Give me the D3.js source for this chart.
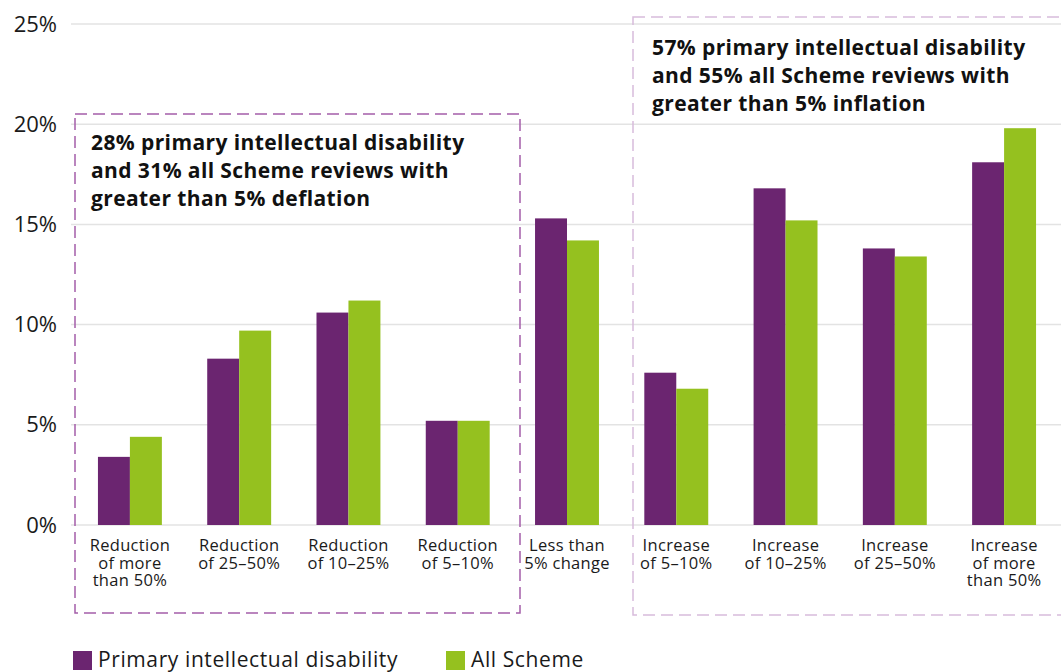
<!DOCTYPE html>
<html>
<head>
<meta charset="utf-8">
<script src="https://cdn.jsdelivr.net/npm/d3@7"></script>
<style>
  body { margin: 0; background: #fff; }
  svg { display: block; font-family: "Open Sans", "Noto Sans", sans-serif; }
</style>
</head>
<body>
<div id="chart"></div>
<script>
// categories (multi-line labels)
var categories = [
  ["Reduction", "of more", "than 50%"],
  ["Reduction", "of 25\u201350%"],
  ["Reduction", "of 10\u201325%"],
  ["Reduction", "of 5\u201310%"],
  ["Less than", "5% change"],
  ["Increase", "of 5\u201310%"],
  ["Increase", "of 10\u201325%"],
  ["Increase", "of 25\u201350%"],
  ["Increase", "of more", "than 50%"]
];
var seriesNames = ["Primary intellectual disability", "All Scheme"];
var primaryID = [3.4, 8.3, 10.6, 5.2, 15.3, 7.6, 16.8, 13.8, 18.1];
var allScheme = [4.4, 9.7, 11.2, 5.2, 14.2, 6.8, 15.2, 13.4, 19.8];
var yTicks = [0, 5, 10, 15, 20, 25];
var noteLeft = ["28% primary intellectual disability", "and 31% all Scheme reviews with", "greater than 5% deflation"];
var noteRight = ["57% primary intellectual disability", "and 55% all Scheme reviews with", "greater than 5% inflation"];

var colors = ["#6b2570", "#95c11f"];
var width = 1061, height = 672;

var svg = d3.select("#chart").append("svg")
  .attr("width", width)
  .attr("height", height);

var x = d3.scaleBand()
  .domain(d3.range(categories.length))
  .range([75, 1059])
  .paddingInner(0.415)
  .paddingOuter(0.21);

var xs = d3.scaleBand()
  .domain(d3.range(seriesNames.length))
  .range([0, x.bandwidth()]);

var y = d3.scaleLinear().domain([0, 25]).range([525, 24]);

// gridlines
svg.append("g").selectAll("line")
  .data(yTicks)
  .enter().append("line")
    .attr("x1", 71)
    .attr("x2", width)
    .attr("y1", function(d) { return y(d); })
    .attr("y2", function(d) { return y(d); })
    .attr("stroke", "#e3e3e3")
    .attr("stroke-width", 1.5);

// y axis labels
var yAxis = svg.append("g")
  .attr("transform", "translate(57,0)")
  .call(d3.axisLeft(y).tickValues(yTicks).tickSize(0).tickPadding(0)
    .tickFormat(function(d) { return d + "%"; }));
yAxis.select(".domain").remove();
yAxis.selectAll("text")
  .attr("font-family", "'Open Sans', sans-serif")
  .attr("font-size", "22px")
  .attr("fill", "#1a1a1a");

// dashed boxes
svg.append("rect")
  .attr("x", 75).attr("y", 114).attr("width", 445).attr("height", 499)
  .attr("fill", "none")
  .attr("stroke", "#a45ea9")
  .attr("stroke-width", 1.5)
  .attr("stroke-dasharray", "12,6");

svg.append("rect")
  .attr("x", 633).attr("y", 17).attr("width", 450).attr("height", 598)
  .attr("fill", "none")
  .attr("stroke", "#d8bcdb")
  .attr("stroke-width", 1.5)
  .attr("stroke-dasharray", "12,6");

// bars
var series = [primaryID, allScheme];
var groups = svg.append("g").selectAll("g")
  .data(categories)
  .enter().append("g")
    .attr("transform", function(d, i) { return "translate(" + x(i) + ",0)"; });

groups.selectAll("rect")
  .data(function(d, i) { return series.map(function(s, j) { return { s: j, v: s[i] }; }); })
  .enter().append("rect")
    .attr("x", function(d) { return xs(d.s); })
    .attr("width", xs.bandwidth())
    .attr("y", function(d) { return y(d.v); })
    .attr("height", function(d) { return y(0) - y(d.v); })
    .attr("fill", function(d) { return colors[d.s]; });

// x labels, one text per line
groups.selectAll("text")
  .data(function(d) { return d; })
  .enter().append("text")
    .attr("text-anchor", "middle")
    .attr("font-size", "16.5px")
    .attr("letter-spacing", "0.3px")
    .attr("fill", "#1a1a1a")
    .attr("x", x.bandwidth() / 2)
    .attr("y", function(d, i) { return 551 + i * 17.5; })
    .text(function(d) { return d; });

// annotations
function note(lines, tx, ty) {
  svg.append("g").selectAll("text")
    .data(lines)
    .enter().append("text")
      .attr("font-size", "21px")
      .attr("font-weight", "bold")
      .attr("letter-spacing", "0.4px")
      .attr("fill", "#111")
      .attr("x", tx)
      .attr("y", function(d, i) { return ty + i * 28; })
      .text(function(d) { return d; });
}
note(noteLeft, 91, 150);
note(noteRight, 652, 55);

// legend
var legend = svg.append("g").selectAll("g")
  .data(seriesNames)
  .enter().append("g")
    .attr("transform", function(d, i) { return "translate(" + [73, 446][i] + ",651)"; });
legend.append("rect")
  .attr("width", 19).attr("height", 19)
  .attr("fill", function(d, i) { return colors[i]; });
legend.append("text")
  .attr("x", 25)
  .attr("y", 16)
  .attr("font-size", "21px")
  .attr("letter-spacing", "0.6px")
  .attr("fill", "#1a1a1a")
  .text(function(d) { return d; });
</script>
</body>
</html>
